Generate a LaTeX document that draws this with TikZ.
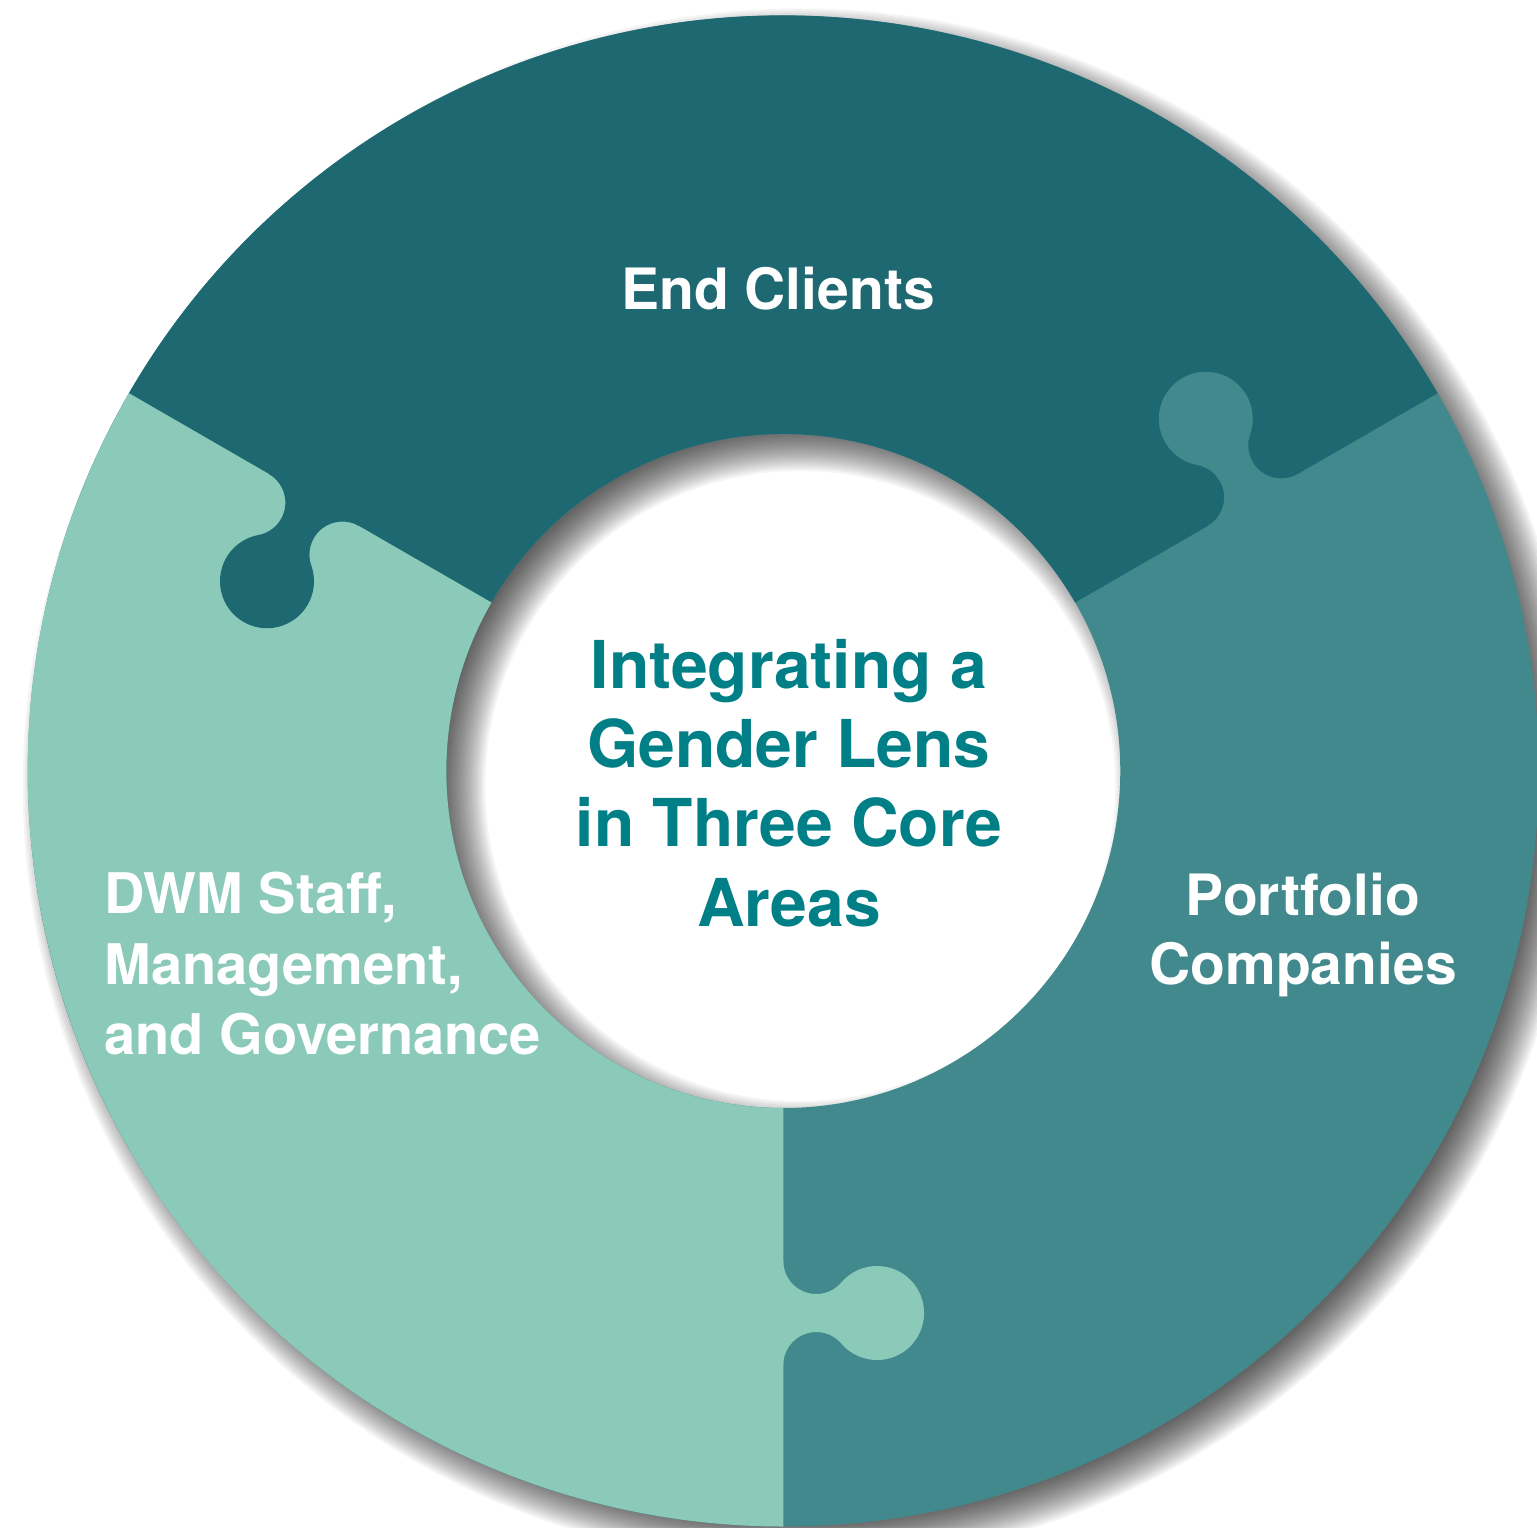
\documentclass[tikz,border=0pt]{standalone}
\usepackage{fontspec}
\setmainfont{TeX Gyre Heros}
\definecolor{topseg}{RGB}{30,104,114}
\definecolor{rightseg}{RGB}{65,137,140}
\definecolor{leftseg}{RGB}{139,202,185}
\definecolor{titleteal}{RGB}{0,127,135}

% puzzle tab on the radial seam at angle #1, filled in colour #2
\newcommand\puzzletab[2]{%
  \fill[#2, rotate=#1] (490,-3) -- (490,0)
    arc[start angle=-90, end angle=49.45, radius=33]
    arc[start angle=229.45, end angle=-49.45, radius=47]
    arc[start angle=130.55, end angle=270, radius=33]
    -- (594,-3) -- cycle;}

\begin{document}
\begin{tikzpicture}[x=1pt, y=1pt,
  seglabel/.style={text=white, font=\bfseries\fontsize{57}{68}\selectfont, inner sep=0pt, anchor=base},
  leftlabel/.style={seglabel, font=\bfseries\fontsize{56}{68}\selectfont, anchor=base west},
  centerlabel/.style={text=titleteal, font=\bfseries\fontsize{66}{79}\selectfont, inner sep=0pt, anchor=base}]

\fill[white] (-783.3,-756) rectangle (753.7,771);
\useasboundingbox (-783.3,-756) rectangle (753.7,771);

% soft drop shadow of the ring, offset to the lower right
\foreach \i in {1,...,20}{
  \pgfmathsetmacro\s{22*(2*\i/20-1)}
  \fill[black, fill opacity=0.043, even odd rule]
    (17,-15) circle[radius=755.5+\s] (17,-15) circle[radius=337-\s];
}

% the three ring segments
\fill[rightseg, even odd rule] (0,0) circle[radius=755.5] (0,0) circle[radius=337];
\fill[topseg] (30:337) -- (30:755.5) arc[start angle=30, end angle=150, radius=755.5]
  -- (150:337) arc[start angle=150, end angle=30, radius=337] -- cycle;
\fill[leftseg] (150:337) -- (150:755.5) arc[start angle=150, end angle=270, radius=755.5]
  -- (270:337) arc[start angle=270, end angle=150, radius=337] -- cycle;

% interlocking tabs
\puzzletab{30}{rightseg}
\puzzletab{150}{topseg}
\puzzletab{270}{leftseg}

% segment labels
\node[seglabel] (endclients) at (-5.3,461) {End Clients};
\node[seglabel] (portfolio1) at (519.7,-144) {Portfolio};
\node[seglabel] (portfolio2) at (519.7,-213) {Companies};
\node[leftlabel] (dwm1) at (-679,-142) {DWM Staff,};
\node[leftlabel] (dwm2) at (-679,-213) {Management,};
\node[leftlabel] (dwm3) at (-679,-283) {and Governance};

% centre title
\node[centerlabel] (title1) at (5.7,83) {Integrating a};
\node[centerlabel] (title2) at (5.7,4) {Gender Lens};
\node[centerlabel] (title3) at (5.7,-75) {in Three Core};
\node[centerlabel] (title4) at (5.7,-155) {Areas};
\end{tikzpicture}
\end{document}
